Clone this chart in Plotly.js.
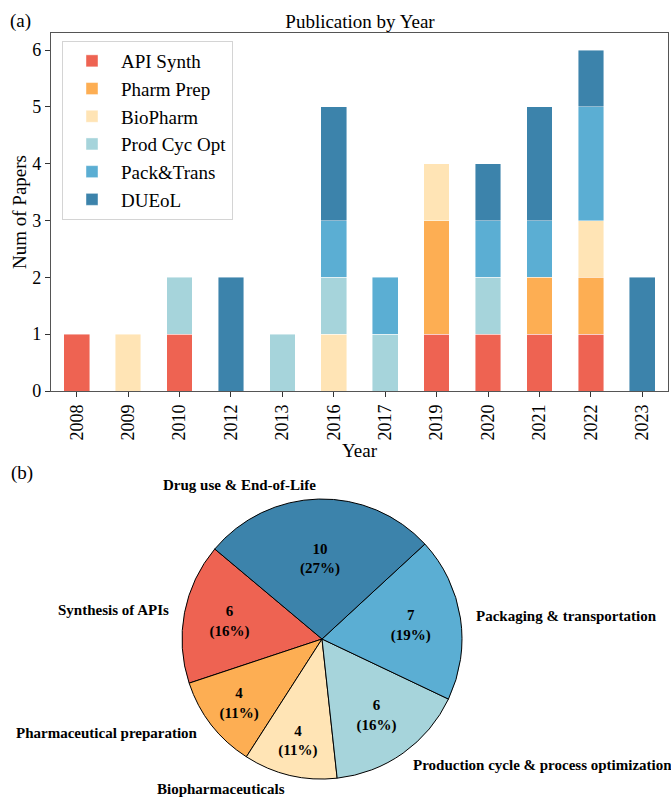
<!DOCTYPE html>
<html>
<head>
<meta charset="utf-8">
<script src="https://cdn.plot.ly/plotly-3.0.1.min.js"></script>
<style>
  html, body { margin: 0; padding: 0; background: #fff; }
  #chart { width: 671px; height: 797px; }
</style>
</head>
<body>
<div id="chart"></div>
<script>
// Publications per year, split by research area
const years = ['2008', '2009', '2010', '2012', '2013', '2016', '2017', '2019', '2020', '2021', '2022', '2023'];
const apiSynth   = [1, 0, 1, 0, 0, 0, 0, 1, 1, 1, 1, 0];
const pharmPrep  = [0, 0, 0, 0, 0, 0, 0, 2, 0, 1, 1, 0];
const bioPharm   = [0, 1, 0, 0, 0, 1, 0, 1, 0, 0, 1, 0];
const prodCycOpt = [0, 0, 1, 0, 1, 1, 1, 0, 1, 0, 0, 0];
const packTrans  = [0, 0, 0, 0, 0, 1, 1, 0, 1, 1, 2, 0];
const dueol      = [0, 0, 0, 2, 0, 2, 0, 0, 1, 2, 1, 2];

const seriesNames = ['API Synth', 'Pharm Prep', 'BioPharm', 'Prod Cyc Opt', 'Pack&Trans', 'DUEoL'];
const seriesValues = [apiSynth, pharmPrep, bioPharm, prodCycOpt, packTrans, dueol];

// Totals per research area
const pieLabels = ['Synthesis of APIs', 'Pharmaceutical preparation', 'Biopharmaceuticals',
                   'Production cycle & process optimization', 'Packaging & transportation',
                   'Drug use & End-of-Life'];
const pieValues = [6, 4, 4, 6, 7, 10];

const colors = ['#EE6352', '#FDAE53', '#FFE4B5', '#A6D4DB', '#5BAED3', '#3C83AB'];

const W = 671, H = 797;
const serif = 'Liberation Serif, Times New Roman, serif';

const traces = seriesValues.map((vals, i) => ({
  type: 'bar',
  name: seriesNames[i],
  x: years,
  y: vals.map(v => (v === 0 ? null : v)),
  width: 0.5,
  marker: { color: colors[i], line: { color: 'rgba(255,255,255,0.55)', width: 0.8 } },
  xaxis: 'x', yaxis: 'y',
  hoverinfo: 'x+y+name'
}));

// Pie geometry (paper domain)
const pieDomain = { x: [182 / W, 462 / W], y: [18 / H, 298 / H] };
const pieStart = 140; // first slice starts here, degrees counter-clockwise from 3 o'clock
const total = pieValues.reduce((a, b) => a + b, 0);
const firstSliceDeg = pieValues[0] / total * 360;

traces.push({
  type: 'pie',
  labels: pieLabels,
  values: pieValues,
  sort: false,
  direction: 'counterclockwise',
  // plotly measures rotation clockwise from 12 o'clock, to the first slice's far edge
  rotation: 90 - pieStart - firstSliceDeg,
  domain: pieDomain,
  marker: { colors: colors, line: { color: '#000', width: 1 } },
  texttemplate: '<b>%{value}<br>(%{percent:.0%})</b>',
  textposition: 'inside',
  insidetextorientation: 'horizontal',
  textfont: { family: serif, size: 15, color: '#000' },
  showlegend: false,
  hoverinfo: 'label+value+percent'
});

// Slice labels just outside the rim, placed at each slice's middle angle
const cxPaper = (pieDomain.x[0] + pieDomain.x[1]) / 2;
const cyPaper = (pieDomain.y[0] + pieDomain.y[1]) / 2;
const rPx = Math.min((pieDomain.x[1] - pieDomain.x[0]) * W, (pieDomain.y[1] - pieDomain.y[0]) * H) / 2;
const annotations = [];
let acc = 0;
pieValues.forEach((v, i) => {
  const mid = (pieStart + (acc + v / 2) / total * 360) * Math.PI / 180;
  acc += v;
  const dx = Math.cos(mid) * rPx * 1.1;
  const dy = Math.sin(mid) * rPx * 1.1;
  annotations.push({
    xref: 'paper', yref: 'paper',
    x: cxPaper + dx / W, y: cyPaper + dy / H,
    xanchor: dx >= 0 ? 'left' : 'right', yanchor: 'middle',
    text: '<b>' + pieLabels[i] + '</b>',
    showarrow: false,
    font: { family: serif, size: 15, color: '#000' }
  });
});

annotations.push(
  { xref: 'paper', yref: 'paper', x: 20 / W, y: 1 - 21 / H, xanchor: 'center', yanchor: 'middle',
    text: '(a)', showarrow: false, font: { family: serif, size: 19, color: '#000' } },
  { xref: 'paper', yref: 'paper', x: 22 / W, y: 1 - 473 / H, xanchor: 'center', yanchor: 'middle',
    text: '(b)', showarrow: false, font: { family: serif, size: 19, color: '#000' } }
);

const layout = {
  width: W, height: H,
  margin: { l: 0, r: 0, t: 0, b: 0 },
  paper_bgcolor: '#fff', plot_bgcolor: '#fff',
  font: { family: serif, color: '#000' },
  barmode: 'stack',
  bargap: 0,
  title: {
    text: 'Publication by Year',
    font: { family: serif, size: 19, color: '#000' },
    x: 360 / W, xanchor: 'center', xref: 'paper',
    y: 1 - 21 / H, yanchor: 'middle', yref: 'container'
  },
  xaxis: {
    domain: [51 / W, 668 / W],
    type: 'category',
    range: [-0.5, 11.5],
    tickangle: -90,
    ticks: 'outside', ticklen: 5, tickwidth: 1, tickcolor: '#333',
    tickfont: { family: serif, size: 18, color: '#000' },
    showline: true, linecolor: '#555', linewidth: 1.2, mirror: true,
    showgrid: false, zeroline: false,
    title: { text: 'Year', font: { family: serif, size: 19, color: '#000' }, standoff: 2 }
  },
  yaxis: {
    domain: [1 - 391 / H, 1 - 33 / H],
    range: [0, 6.3],
    tickmode: 'linear', tick0: 0, dtick: 1,
    ticks: 'outside', ticklen: 5, tickwidth: 1, tickcolor: '#333',
    tickfont: { family: serif, size: 18, color: '#000' },
    showline: true, linecolor: '#555', linewidth: 1.2, mirror: true,
    showgrid: false, zeroline: false,
    title: { text: 'Num of Papers', font: { family: serif, size: 19, color: '#000' }, standoff: 0 }
  },
  legend: {
    x: 62 / W, y: 1 - 41 / H, xanchor: 'left', yanchor: 'top',
    traceorder: 'normal',
    bgcolor: 'rgba(255,255,255,0.9)', bordercolor: '#d4d4d4', borderwidth: 1,
    font: { family: serif, size: 19, color: '#000' },
    itemwidth: 48
  },
  annotations: annotations,
  showlegend: true
};

Plotly.newPlot('chart', traces, layout, { displayModeBar: false, staticPlot: true });
</script>
</body>
</html>
